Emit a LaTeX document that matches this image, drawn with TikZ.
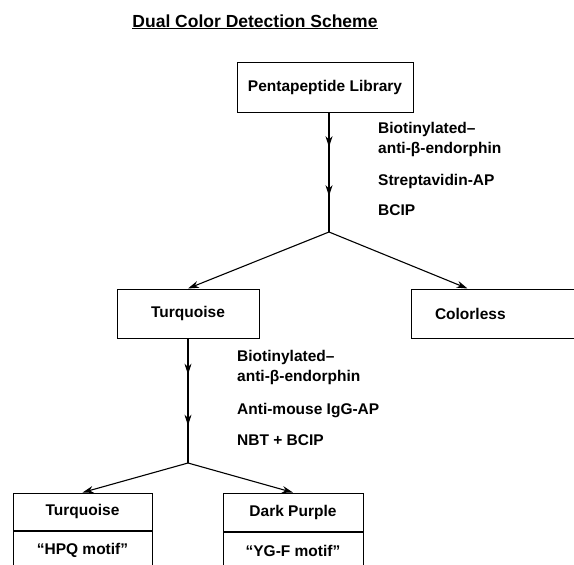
\documentclass[tikz,border=0pt]{standalone}
\usepackage{fontspec}
\setmainfont{Liberation Sans}
\usetikzlibrary{arrows.meta, decorations.markings, positioning, calc}

\tikzset{
  box/.style={draw, line width=1pt, inner sep=0pt,
    font=\bfseries\fontsize{15.5}{18}\selectfont},
  reagent/.style={anchor=base west, inner sep=0pt,
    font=\bfseries\fontsize{15.5}{18}\selectfont},
  arr/.style={line width=1.1pt, -{Stealth[length=11pt, width=7pt]}},
  midarrows/.style={line width=1.1pt, postaction={decorate},
    decoration={markings,
      mark=at position 0.29 with {\arrow{Stealth[length=11pt, width=7pt]}},
      mark=at position 0.70 with {\arrow{Stealth[length=11pt, width=7pt]}}}}
}

\begin{document}
\begin{tikzpicture}[x=1pt, y=-1pt]
    \clip (0,0) rectangle (574,565);

    % Draw title
    \node[anchor=base, inner sep=0pt, font=\bfseries\fontsize{17.5}{20}\selectfont] (title) at (255,27) {\underline{Dual Color Detection Scheme}};

    % Draw nodes for first screen
    \node[box, minimum width=176pt, minimum height=50pt] (lib) at (325,87) {Pentapeptide Library};
    \node[box, minimum width=142pt, minimum height=49pt] (turq) at (188,313.5) {Turquoise};
    \node[box, text width=141pt, inner xsep=24pt, minimum height=49pt, align=left] (colorless) at (505.5,313.5) {Colorless};

    % Draw nodes for second screen
    \node[box, minimum width=139pt, minimum height=37pt] (turqB) at (82.5,511.5) {Turquoise};
    \node[box, minimum width=139pt, minimum height=38pt, below=0pt of turqB] (hpq) {“HPQ motif”};
    \node[box, minimum width=140pt, minimum height=38pt] (purple) at (293,512) {Dark Purple};
    \node[box, minimum width=140pt, minimum height=38pt, below=0pt of purple] (ygf) {“YG-F motif”};

    % Draw reagent labels
    \node[reagent] (bio1) at (378,133.5) {Biotinylated--};
    \node[reagent] (anti1) at (378,153.5) {anti-β-endorphin};
    \node[reagent] (strep) at (378,185.5) {Streptavidin-AP};
    \node[reagent] (bcip) at (378,215.5) {BCIP};
    \node[reagent] (bio2) at (237,361.5) {Biotinylated--};
    \node[reagent] (anti2) at (237,381.5) {anti-β-endorphin};
    \node[reagent] (igg) at (237,414.5) {Anti-mouse IgG-AP};
    \node[reagent] (nbt) at (237,445.5) {NBT + BCIP};

    % Draw edges
    \coordinate (split1) at (329,232);
    \coordinate (split2) at (188,463);
    \draw[midarrows] (lib.south -| split1) -- (split1);
    \draw[arr] (split1) -- (turq.north);
    \draw[arr] (split1) -- ($(colorless.north west)!0.3!(colorless.north east)$);
    \draw[midarrows] (turq.south) -- (split2);
    \draw[arr] (split2) -- (turqB.north);
    \draw[arr] (split2) -- (purple.north);
\end{tikzpicture}
\end{document}
